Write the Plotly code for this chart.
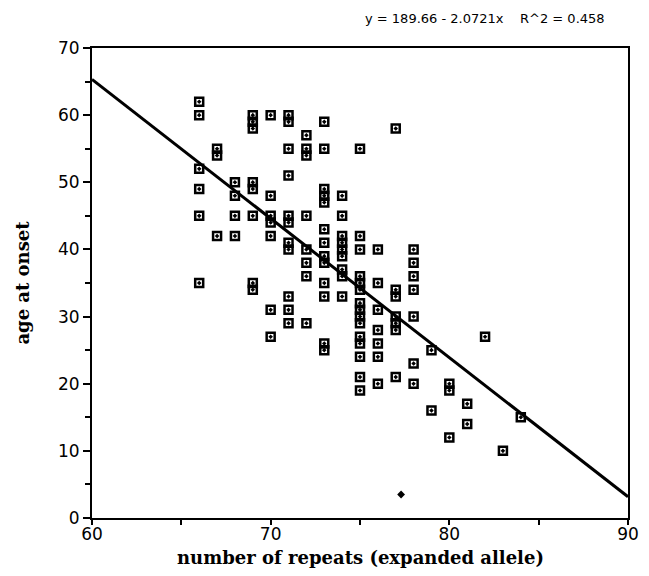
import plotly.graph_objects as go

# ---- data ----
repeats_66 = [62, 60, 52, 49, 45, 35]
repeats_67 = [55, 54, 42]
repeats_68 = [50, 48, 45, 42]
repeats_69 = [60, 59, 58, 50, 49, 45, 35, 34]
repeats_70 = [60, 48, 45, 44, 42, 31, 27]
repeats_71 = [60, 59, 55, 51, 45, 44, 41, 40, 33, 31, 29]
repeats_72 = [57, 55, 54, 45, 40, 38, 36, 29]
repeats_73 = [59, 55, 49, 48, 47, 43, 41, 39, 38, 35, 33, 26, 25]
repeats_74 = [48, 45, 42, 41, 40, 39, 37, 36, 33]
repeats_75 = [55, 42, 40, 36, 35, 34, 32, 31, 30, 29, 27, 26, 24, 21, 19]
repeats_76 = [40, 35, 31, 28, 26, 24, 20]
repeats_77 = [58, 34, 33, 30, 29, 28, 21]
repeats_78 = [40, 38, 36, 34, 30, 23, 20]
repeats_79 = [25, 16]
repeats_80 = [20, 19, 12]
repeats_81 = [17, 14]
repeats_82 = [27]
repeats_83 = [10]
repeats_84 = [15]

onset_by_repeats = {
    66: repeats_66, 67: repeats_67, 68: repeats_68, 69: repeats_69,
    70: repeats_70, 71: repeats_71, 72: repeats_72, 73: repeats_73,
    74: repeats_74, 75: repeats_75, 76: repeats_76, 77: repeats_77,
    78: repeats_78, 79: repeats_79, 80: repeats_80, 81: repeats_81,
    82: repeats_82, 83: repeats_83, 84: repeats_84,
}

outlier_x = [77.3]
outlier_y = [3.5]

fit_intercept = 189.66
fit_slope = -2.0721
r_squared = 0.458

x_range = [60, 90]
y_range = [0, 70]
x_ticks = [60, 70, 80, 90]
y_ticks = [0, 10, 20, 30, 40, 50, 60, 70]

x_title = "number of repeats (expanded allele)"
y_title = "age at onset"

# ---- build ----
xs, ys = [], []
for rep, ages in onset_by_repeats.items():
    for a in ages:
        xs.append(rep)
        ys.append(a)

line_x = list(x_range)
line_y = [fit_intercept + fit_slope * v for v in line_x]

fig = go.Figure()
fig.add_trace(go.Scatter(
    x=line_x, y=line_y, mode="lines",
    line=dict(color="black", width=3), hoverinfo="skip", showlegend=False,
))
fig.add_trace(go.Scatter(
    x=xs, y=ys, mode="markers",
    marker=dict(symbol="square-open-dot", size=8, color="black",
                line=dict(color="black", width=2.5)),
    showlegend=False,
))
fig.add_trace(go.Scatter(
    x=outlier_x, y=outlier_y, mode="markers",
    marker=dict(symbol="diamond", size=6, color="black"),
    showlegend=False,
))

tick_font = dict(family="DejaVu Sans", size=17, color="black")
title_font = dict(family="DejaVu Serif", size=18, color="black", weight="bold")

fig.update_xaxes(
    range=x_range, tickvals=x_ticks, ticktext=[str(t) for t in x_ticks],
    showline=True, linecolor="black", linewidth=2, mirror=True,
    ticks="outside", ticklen=5, tickwidth=2, tickcolor="black",
    ticklabelstandoff=-5,
    minor=dict(dtick=5, ticks="outside", ticklen=5, tickwidth=2, tickcolor="black"),
    showgrid=False, zeroline=False, tickfont=tick_font,
)
fig.update_yaxes(
    range=y_range, tickvals=y_ticks, ticktext=[str(t) for t in y_ticks],
    showline=True, linecolor="black", linewidth=2, mirror=True,
    ticks="outside", ticklen=7, tickwidth=2, tickcolor="black",
    minor=dict(dtick=5, ticks="outside", ticklen=5, tickwidth=2, tickcolor="black"),
    showgrid=False, zeroline=False, tickfont=tick_font,
    title=dict(text=y_title, font=title_font, standoff=24),
)

fig.add_annotation(
    xref="paper", yref="paper", x=0.5, y=-0.084, xanchor="center", yanchor="middle",
    text=x_title, showarrow=False, font=title_font,
)

fig.add_annotation(
    xref="paper", yref="paper", x=0.961, y=1.062, xanchor="right", yanchor="middle",
    text=f"y = {fit_intercept:.2f} - {abs(fit_slope):.4f}x    R^2 = {r_squared}",
    showarrow=False, font=dict(family="DejaVu Sans", size=13, color="black"),
)

fig.update_layout(
    width=649, height=576,
    margin=dict(l=84, r=29, t=40, b=66),
    paper_bgcolor="white", plot_bgcolor="white",
)

fig.write_html("out.html")
